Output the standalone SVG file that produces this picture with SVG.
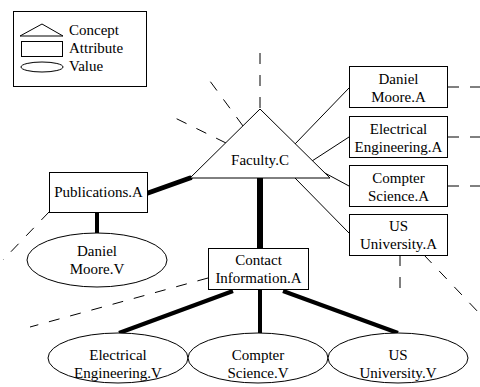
<svg xmlns="http://www.w3.org/2000/svg" width="480" height="387" viewBox="0 0 480 387" font-family="'Liberation Serif', 'DejaVu Serif', serif">
<style>
text{font-family:'Liberation Serif','DejaVu Serif',serif;font-size:15px;fill:#000;text-anchor:middle}
.lg{text-anchor:start}
.shape{fill:#fff;stroke:#000;stroke-width:1}
.thin{stroke:#000;stroke-width:1;fill:none}
.thick{stroke:#000;stroke-width:5;stroke-linecap:round;fill:none}
.mid{stroke:#000;stroke-width:4;fill:none}
.dash{stroke:#000;stroke-width:1;fill:none;stroke-dasharray:11 11}
</style>
<rect width="480" height="387" fill="#fff"/>
<g id="legend">
<rect x="13.5" y="11.5" width="133" height="75" fill="#fff" stroke="#000"/>
<polygon points="42,24 20,36 63,36" class="shape" stroke-width="1.5"/>
<rect x="21.5" y="41.5" width="41" height="15" class="shape"/>
<ellipse cx="42" cy="67" rx="21" ry="5" class="shape"/>
<text class="lg" x="69" y="35">Concept</text>
<text class="lg" x="69" y="53">Attribute</text>
<text class="lg" x="69" y="71">Value</text>
</g>
<g id="connectors">
<line class="dash" x1="260" y1="108" x2="260" y2="50"/>
<line class="dash" x1="243" y1="126" x2="204" y2="73" stroke-dasharray="12 11"/>
<line class="dash" x1="226" y1="143" x2="169" y2="115" stroke-dasharray="11 10"/>
<line class="thin" x1="295" y1="144" x2="349" y2="88"/>
<line class="thin" x1="312" y1="161" x2="349" y2="137"/>
<line class="thin" x1="323" y1="172" x2="349" y2="186"/>
<line class="thin" x1="295" y1="178" x2="349" y2="233"/>
<line class="dash" x1="448" y1="87" x2="490" y2="87" stroke-dasharray="12 13"/>
<line class="dash" x1="448" y1="137" x2="490" y2="137" stroke-dasharray="12 13"/>
<line class="dash" x1="448" y1="186" x2="490" y2="186" stroke-dasharray="12 13"/>
<line class="dash" x1="400" y1="255" x2="400" y2="293" stroke-dasharray="11 13 13 30"/>
<line class="dash" x1="424" y1="255" x2="480" y2="314" stroke-dasharray="10 12"/>
<line class="thick" x1="148" y1="193" x2="190" y2="178"/>
<line class="mid" x1="97" y1="212" x2="97" y2="233"/>
<line class="dash" x1="49" y1="212" x2="3" y2="260" stroke-dasharray="7 10"/>
<line class="dash" x1="208" y1="278" x2="30" y2="327" stroke-dasharray="10 10"/>
<line x1="260" y1="178" x2="260" y2="248" stroke="#000" stroke-width="6"/>
<line class="mid" x1="233" y1="291" x2="119" y2="333"/>
<line class="mid" x1="260" y1="290" x2="260" y2="333"/>
<line class="mid" x1="283" y1="291" x2="398" y2="333"/>
</g>
<g id="faculty">
<polygon points="260,109 190,178 330,178" class="shape"/>
<text x="260" y="165">Faculty.C</text>
</g>
<g id="daniel-a">
<rect x="349.5" y="66.5" width="98" height="41" class="shape"/>
<text x="398.5" y="84">Daniel</text>
<text x="398.5" y="102">Moore.A</text>
</g>
<g id="ee-a">
<rect x="349.5" y="116.5" width="98" height="41" class="shape"/>
<text x="398.5" y="134">Electrical</text>
<text x="398.5" y="152">Engineering.A</text>
</g>
<g id="cs-a">
<rect x="349.5" y="165.5" width="98" height="41" class="shape"/>
<text x="398.5" y="183">Compter</text>
<text x="398.5" y="201">Science.A</text>
</g>
<g id="us-a">
<rect x="349.5" y="214.5" width="98" height="41" class="shape"/>
<text x="398.5" y="231">US</text>
<text x="398.5" y="249">University.A</text>
</g>
<g id="publications">
<rect x="49.5" y="172.5" width="98" height="40" class="shape"/>
<text x="98.5" y="197">Publications.A</text>
</g>
<g id="daniel-v">
<ellipse cx="97" cy="260" rx="70" ry="27" class="shape"/>
<text x="97" y="256">Daniel</text>
<text x="97" y="274">Moore.V</text>
</g>
<g id="contact">
<rect x="208.5" y="248.5" width="100" height="41" class="shape"/>
<text x="258.5" y="265">Contact</text>
<text x="258.5" y="283">Information.A</text>
</g>
<g id="ee-v">
<ellipse cx="118" cy="358" rx="70" ry="25" class="shape"/>
<text x="118" y="360">Electrical</text>
<text x="118" y="378">Engineering.V</text>
</g>
<g id="cs-v">
<ellipse cx="258" cy="358" rx="70" ry="25" class="shape"/>
<text x="258" y="360">Compter</text>
<text x="258" y="378">Science.V</text>
</g>
<g id="us-v">
<ellipse cx="398" cy="358" rx="70" ry="25" class="shape"/>
<text x="398" y="360">US</text>
<text x="398" y="378">University.V</text>
</g>
</svg>
